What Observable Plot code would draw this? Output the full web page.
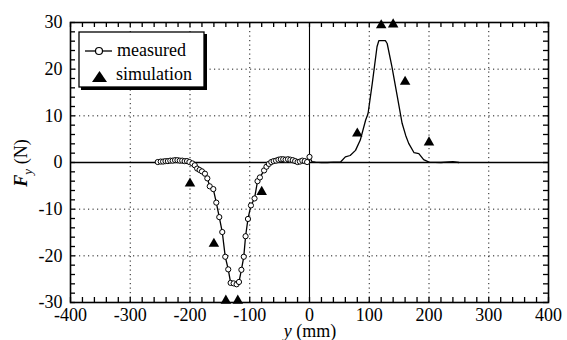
<!DOCTYPE html>
<html><head><meta charset="utf-8">
<script src="https://cdn.jsdelivr.net/npm/d3@7"></script>
<script src="https://cdn.jsdelivr.net/npm/@observablehq/plot@0.6"></script>
<style>
html,body{margin:0;padding:0;background:#fff;}
#wrap{position:relative;width:567px;height:340px;}
#wrap svg text{font-family:"Liberation Serif","Times New Roman",serif;}
</style></head><body><div id="wrap"></div>
<script>
// measured data (circles), y position in mm and force in N
const measuredY = [-254,-249,-245,-241,-237,-233,-229,-225,-221,-217,-213,-209,-205,-201,-196,-192,-188,-184,-180,-175,-171,-167,-161,-156,-151,-146,-141,-136,-132,-127,-122,-118,-114,-110,-107,-103,-98,-92,-87,-83,-76,-72,-68,-64,-60,-56,-52,-48,-44,-40,-36,-32,-28,-24,-20,-16,-12,-8,-4,0];
const measuredF = [0.1,0.2,0.2,0.3,0.3,0.4,0.4,0.5,0.5,0.4,0.4,0.3,0.3,0.1,-0.2,-0.6,-1.3,-1.6,-1.9,-2.4,-3.4,-5.1,-5.7,-8.6,-11.7,-14.9,-20.2,-22.9,-25.8,-25.9,-26.1,-25.6,-23.0,-20.2,-15.8,-12.1,-9.2,-7.7,-4.0,-3.2,-1.7,-0.9,-0.3,0.1,0.3,0.4,0.6,0.7,0.7,0.6,0.7,0.6,0.5,0.3,0.1,0.2,0.4,0.3,0.1,1.2];
// measured data continuing as a plain line on the positive side
const lineY = [0,4,10,20,30,40,52,60,68,77,85,94,98,105,113,116,127,130,138,147,155,161,166,175,183,191,200,220,240,250];
const lineF = [1.2,0.2,0.1,0,0,0.1,0.1,1.2,1.5,2.6,4.8,9.1,10.5,16.9,24.8,26.1,26.1,25.5,20.5,14.1,8.4,5.8,4.1,2.1,1.9,0.6,0.1,0,0.2,0];
// simulation (triangles)
const simY = [-200,-160,-140,-120,-80,80,120,140,160,200];
const simF = [-4.5,-17.4,-29.6,-29.6,-6.3,6.2,29.4,29.6,17.3,4.3];

const xMajor = [-400,-300,-200,-100,0,100,200,300,400];
const yMajor = [-30,-20,-10,0,10,20,30];
const xGrid = [-300,-200,-100,100,200,300];
const yGrid = [-20,-10,10,20];
const xMinor = d3.range(-400, 401, 20);
const yMinor = d3.range(-30, 31, 2);

const measured = measuredY.map((y, i) => ({y, f: measuredF[i]}));
const measLine = measured.concat(lineY.map((y, i) => ({y, f: lineF[i]})));
const sim = simY.map((y, i) => ({y, f: simF[i]}));

const font = '"Liberation Serif","Times New Roman",serif';
const W = 567, H = 340, mL = 70, mR = 19, mT = 22, mB = 38, tl = 5;
const fw = W - mL - mR, fh = H - mT - mB;
const chart = Plot.plot({
  width: W, height: H,
  marginLeft: mL, marginRight: mR, marginTop: mT, marginBottom: mB,
  style: {fontFamily: font, fontSize: "18px", background: "#fff", color: "#000"},
  x: {domain: [-400, 400]},
  y: {domain: [-30, 30]},
  marks: [
    Plot.gridX(xGrid, {stroke: "#000", strokeOpacity: 0.9, strokeDasharray: "1.2,3.3", strokeWidth: 1}),
    Plot.gridY(yGrid, {stroke: "#000", strokeOpacity: 0.9, strokeDasharray: "1.2,3.3", strokeWidth: 1}),
    Plot.ruleY([0], {strokeWidth: 1.3}),
    Plot.ruleX([0], {strokeWidth: 1.1}),
    Plot.tickX(xMinor, {x: d => d, insetTop: fh - tl, strokeWidth: 1.3, stroke: "#000"}),
    Plot.tickX(xMinor, {x: d => d, insetBottom: fh - tl, strokeWidth: 1.3, stroke: "#000"}),
    Plot.tickY(yMinor, {y: d => d, insetRight: fw - tl, strokeWidth: 1.3, stroke: "#000"}),
    Plot.tickY(yMinor, {y: d => d, insetLeft: fw - tl, strokeWidth: 1.3, stroke: "#000"}),
    Plot.axisX(xMajor, {anchor: "bottom", tickSize: 0, tickPadding: 6, label: null, tickFormat: d => String(d)}),
    Plot.axisY(yMajor, {anchor: "left", tickSize: 0, tickPadding: 8, label: null, tickFormat: d => String(d)}),
    Plot.line(measLine, {x: "y", y: "f", stroke: "#000", strokeWidth: 1.3}),
    Plot.dot(measured, {x: "y", y: "f", r: 2.6, stroke: "#000", fill: "#fff", strokeWidth: 1}),
    Plot.dot(sim, {x: "y", y: "f", symbol: "triangle", r: 3.9, fill: "#000", stroke: "none"}),
    Plot.frame({strokeWidth: 1.6})
  ]
});
document.getElementById("wrap").appendChild(chart);

const svg = d3.select(chart);
// y-axis label F_y (N)
const yl = svg.append("text")
  .attr("transform", "translate(27,163) rotate(-90)")
  .attr("text-anchor", "middle")
  .style("font-size", "18px").attr("fill", "#000");
yl.append("tspan").attr("font-style", "italic").attr("font-weight", "bold").text("F");
yl.append("tspan").attr("font-style", "italic").attr("font-size", "13px").attr("dy", "5").text("y");
yl.append("tspan").attr("dy", "-5").text(" (N)");
// x-axis label y (mm)
const xl = svg.append("text")
  .attr("x", 310).attr("y", 337)
  .attr("text-anchor", "middle")
  .style("font-size", "18px").attr("fill", "#000");
xl.append("tspan").attr("font-style", "italic").text("y");
xl.append("tspan").text(" (mm)");

// legend
const lg = svg.append("g").attr("transform", "translate(79,32)").attr("text-anchor", "start");
lg.append("rect").attr("x", 2).attr("y", 2).attr("width", 126).attr("height", 56).attr("fill", "#000");
lg.append("rect").attr("x", 0).attr("y", 0).attr("width", 125).attr("height", 55).attr("fill", "#fff").attr("stroke", "#000").attr("stroke-width", 1.3);
lg.append("line").attr("x1", 6).attr("x2", 33).attr("y1", 19).attr("y2", 19).attr("stroke", "#000").attr("stroke-width", 1.3);
lg.append("circle").attr("cx", 20).attr("cy", 19).attr("r", 3.5).attr("fill", "#fff").attr("stroke", "#000").attr("stroke-width", 1.2);
lg.append("text").attr("x", 38).attr("y", 24).attr("text-anchor", "start").style("font-size", "18px").attr("fill", "#000").text("measured");
lg.append("path").attr("d", "M20.5,39 L28,50 L13,50 Z").attr("fill", "#000");
lg.append("text").attr("x", 37).attr("y", 48).attr("text-anchor", "start").style("font-size", "18px").attr("fill", "#000").text("simulation");
</script>
</body></html>
